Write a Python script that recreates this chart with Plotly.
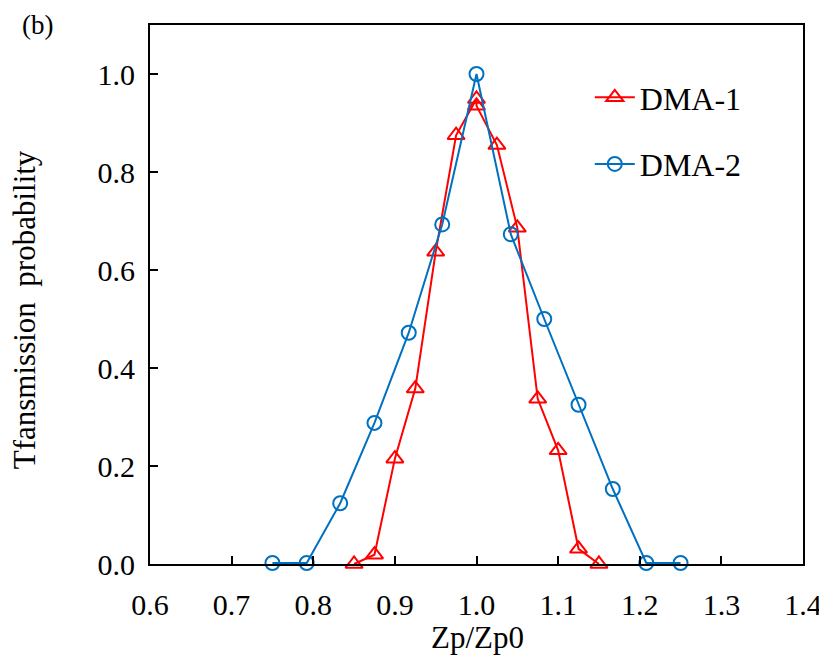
import plotly.graph_objects as go

# DMA-1 (red triangles)
dma1_x = [0.85, 0.875, 0.90, 0.925, 0.95, 0.975, 1.0, 1.0, 1.025, 1.05, 1.075, 1.10, 1.125, 1.15]
dma1_y = [0.0, 0.019, 0.215, 0.358, 0.637, 0.875, 0.949, 0.935, 0.855, 0.686, 0.337, 0.232, 0.031, 0.0]

# DMA-2 (blue circles)
dma2_x = [0.75, 0.792, 0.833, 0.875, 0.917, 0.958, 1.0, 1.042, 1.083, 1.125, 1.167, 1.208, 1.25]
dma2_y = [0.002, 0.002, 0.124, 0.288, 0.472, 0.693, 1.0, 0.673, 0.500, 0.325, 0.153, 0.002, 0.002]

x_ticks = [0.6, 0.7, 0.8, 0.9, 1.0, 1.1, 1.2, 1.3, 1.4]
y_ticks = [0.0, 0.2, 0.4, 0.6, 0.8, 1.0]

FONT = "Liberation Serif, Times New Roman, serif"
RED = "#FF0000"
BLUE = "#0070C0"

fig = go.Figure()
fig.add_trace(go.Scatter(
    x=dma1_x, y=dma1_y, name="DMA-1", mode="lines+markers",
    line=dict(color=RED, width=2),
    marker=dict(symbol="triangle-up-open", size=15, color=RED, line=dict(width=2, color=RED)),
    cliponaxis=False, legendgroup="a",
))
fig.add_trace(go.Scatter(
    x=dma2_x, y=dma2_y, name="DMA-2", mode="lines+markers",
    line=dict(color=BLUE, width=2),
    marker=dict(symbol="circle-open", size=14, color=BLUE, line=dict(width=2, color=BLUE)),
    cliponaxis=False, legendgroup="b",
))

axis_common = dict(
    showline=True, linecolor="black", linewidth=2, mirror=True,
    ticks="inside", ticklen=8, tickwidth=2, tickcolor="black",
    showgrid=False, zeroline=False, automargin=False,
    tickfont=dict(family=FONT, size=30, color="black"),
    ticklabeloverflow="allow",
)

fig.update_layout(
    width=819, height=660,
    margin=dict(l=142, r=24, t=17, b=104),
    paper_bgcolor="white", plot_bgcolor="white",
    font=dict(family=FONT, color="black"),
    xaxis=dict(range=[0.6, 1.4], tickvals=x_ticks, tickformat=".1f",
               ticklabelstandoff=13, **axis_common),
    yaxis=dict(range=[0, 1.1], tickvals=y_ticks, tickformat=".1f",
               ticklabelstandoff=7, **axis_common),
    showlegend=True,
    legend=dict(
        x=0.6735, y=0.9165, xanchor="left", yanchor="top",
        font=dict(family=FONT, size=32, color="black"),
        bgcolor="rgba(0,0,0,0)", tracegroupgap=22, traceorder="grouped",
        itemwidth=40,
    ),
    annotations=[
        dict(text="Zp/Zp0", xref="paper", yref="paper", x=0.502, y=-0.136,
             xanchor="center", yanchor="middle", showarrow=False,
             font=dict(family=FONT, size=31, color="black")),
        dict(text="Tfansmission  probability", xref="paper", yref="paper",
             x=-0.192, y=0.472, xanchor="center", yanchor="middle", textangle=-90,
             showarrow=False, font=dict(family=FONT, size=31, color="black")),
        dict(text="(b)", xref="paper", yref="paper", x=-0.173, y=1.0,
             xanchor="center", yanchor="middle", showarrow=False,
             font=dict(family=FONT, size=27, color="black")),
    ],
)

fig.write_html("out.html")
